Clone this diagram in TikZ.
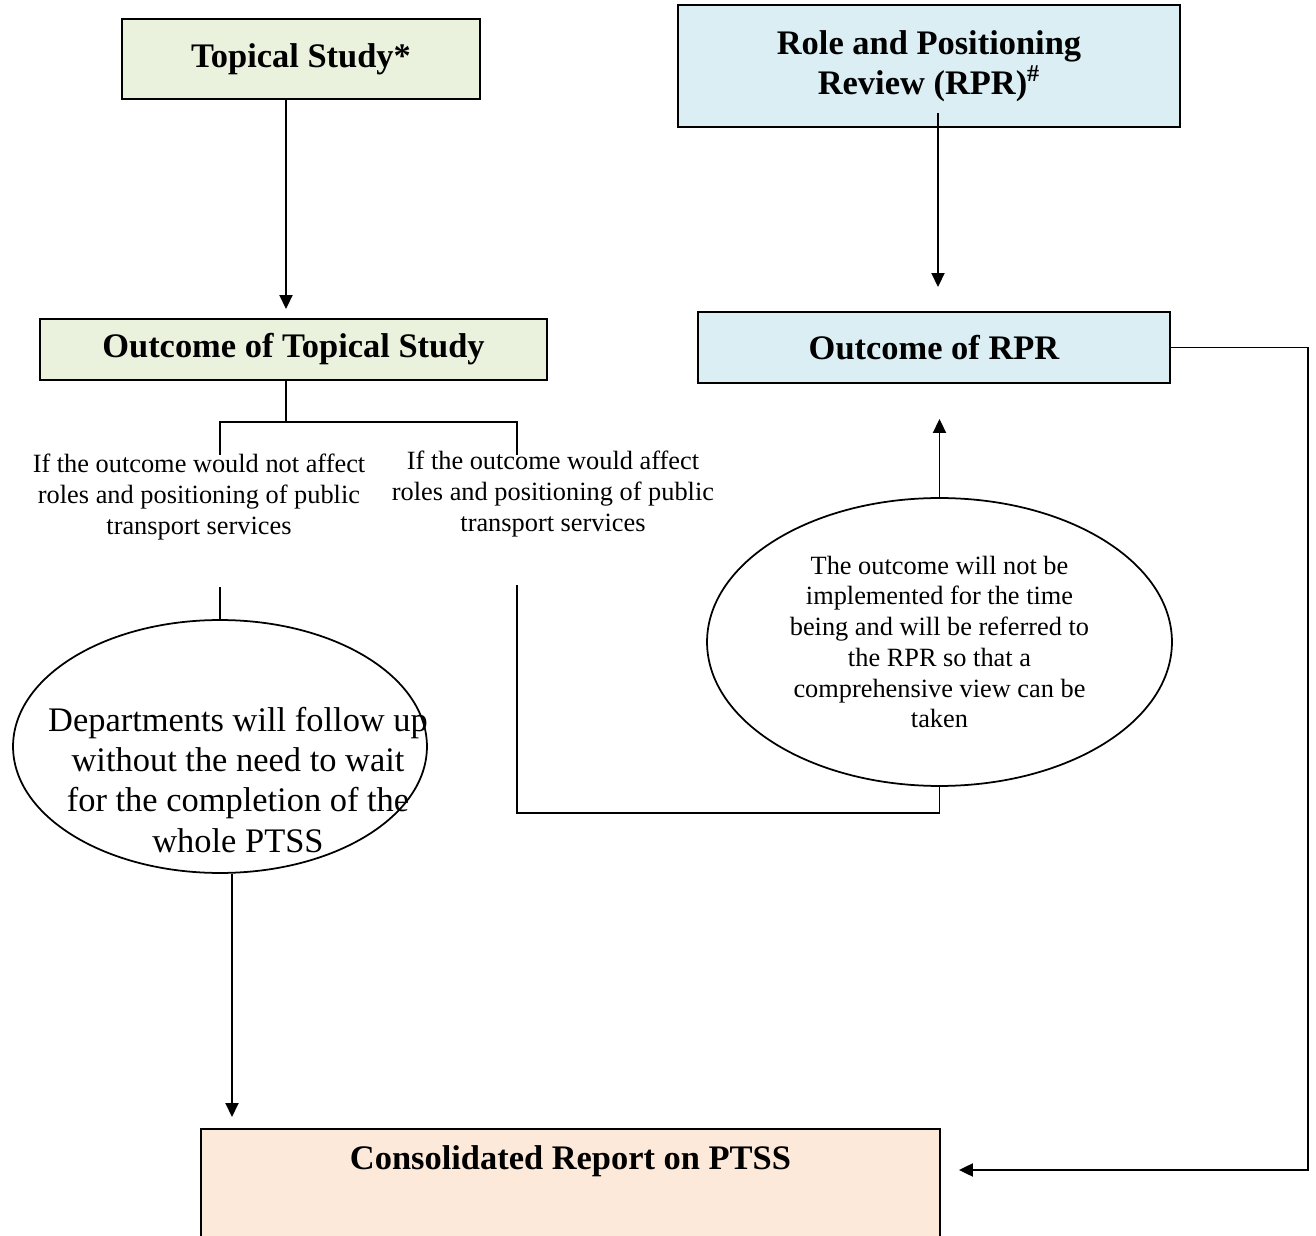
\documentclass[tikz,border=0pt]{standalone}
\usepackage{fontspec}
\setmainfont{Liberation Serif}
\usetikzlibrary{arrows.meta,shapes.geometric}

\definecolor{studygreen}{HTML}{EAF1DD}
\definecolor{reviewblue}{HTML}{DAEEF3}
\definecolor{reportpeach}{HTML}{FDE9D9}

\begin{document}
\begin{tikzpicture}[x=0.02cm, y=-0.02cm,
	box/.style={draw, line width=1.1pt, inner sep=0pt, align=center, font=\fontsize{19.6}{22.8}\selectfont\bfseries},
	heading/.style={align=center, font=\fontsize{19.6}{22.8}\selectfont\bfseries},
	cond/.style={align=center, font=\fontsize{15}{17.5}\selectfont},
	oval/.style={draw, ellipse, line width=1pt, inner sep=0pt, align=center},
	link/.style={line width=1.1pt},
	arr/.style={line width=1.1pt, -{Triangle[length=0.28cm, width=0.26cm]}}]

\clip (0,0) rectangle (1316,1236);

% Boxes of the two studies and their outcomes
\node[box, fill=studygreen, minimum width=7.16cm, minimum height=1.6cm] (topic) at (301,59) {Topical Study*};
\node[box, fill=reviewblue, minimum width=10.04cm, minimum height=2.44cm] (rpr) at (929,66)
	{Role and Positioning\\Review (RPR)\textsuperscript{\#}};
\node[box, fill=studygreen, minimum width=10.14cm, minimum height=1.22cm] (outts) at (293.5,349.5) {Outcome of Topical Study};
\node[box, fill=reviewblue, minimum width=9.44cm, minimum height=1.42cm] (outrpr) at (934,347.5) {Outcome of RPR};

% Consolidated report (runs off the bottom of the page)
\node[box, fill=reportpeach, minimum width=14.78cm, minimum height=3cm, anchor=north] (report) at (570.5,1128) {};
\node[heading] (reporttitle) at (570.5,1161) {Consolidated Report on PTSS};

% The two conditions
\node[cond] (notaffect) at (199,497) {If the outcome would not affect\\roles and positioning of public\\transport services};
\node[cond] (affect) at (553,494) {If the outcome would affect\\roles and positioning of public\\transport services};

% Ellipses
\node[oval, minimum width=8.28cm, minimum height=5.06cm] (ellL) at (220,746.5) {};
\node[align=center, font=\fontsize{19.6}{22.8}\selectfont] (ellLtext) at (238,780)
	{Departments will follow up\\without the need to wait\\for the completion of the\\whole PTSS};
\node[oval, minimum width=9.3cm, minimum height=5.76cm, font=\fontsize{15}{17.5}\selectfont] (ellR) at (939.5,642)
	{The outcome will not be\\implemented for the time\\being and will be referred to\\the RPR so that a\\comprehensive view can be\\taken};

% Free ends of the connectors
\coordinate (fork) at (286,422);
\coordinate (forkL) at (220,422);
\coordinate (forkR) at (517,422);
\coordinate (stubL) at (220,455);
\coordinate (stubR) at (517,455);
\coordinate (startL) at (220,587);
\coordinate (startR) at (517,585);
\coordinate (bendR) at (517,813);
\coordinate (corner) at (1308,1170);

% Arrows down from the studies
\draw[arr, shorten >=0.18cm] ([xshift=-0.3cm]topic.south) -- ([xshift=-0.3cm]topic.south |- outts.north);
\draw[arr, shorten >=0.48cm] ([xshift=0.18cm, yshift=0.3cm]rpr.south) -- ([xshift=0.18cm]rpr.south |- outrpr.north);

% Fork below the outcome of the topical study
\draw[link] (fork |- outts.south) -- (fork);
\draw[link] (stubL) -- (forkL) -- (forkR) -- (stubR);

% Branches
\draw[link] (startL) -- (ellL.north);
\draw[link] (startR) -- (bendR) -- (bendR -| ellR.south) -- (ellR.south);
\draw[arr, shorten >=0.7cm] (ellR.north) -- (ellR.north |- outrpr.south);
\draw[arr, shorten >=0.22cm] ([xshift=0.24cm]ellL.south) -- ([xshift=0.24cm]ellL.south |- report.north);
\draw[arr, shorten >=0.36cm] (outrpr.east) -| (corner) -- (corner -| report.east);

\end{tikzpicture}
\end{document}
